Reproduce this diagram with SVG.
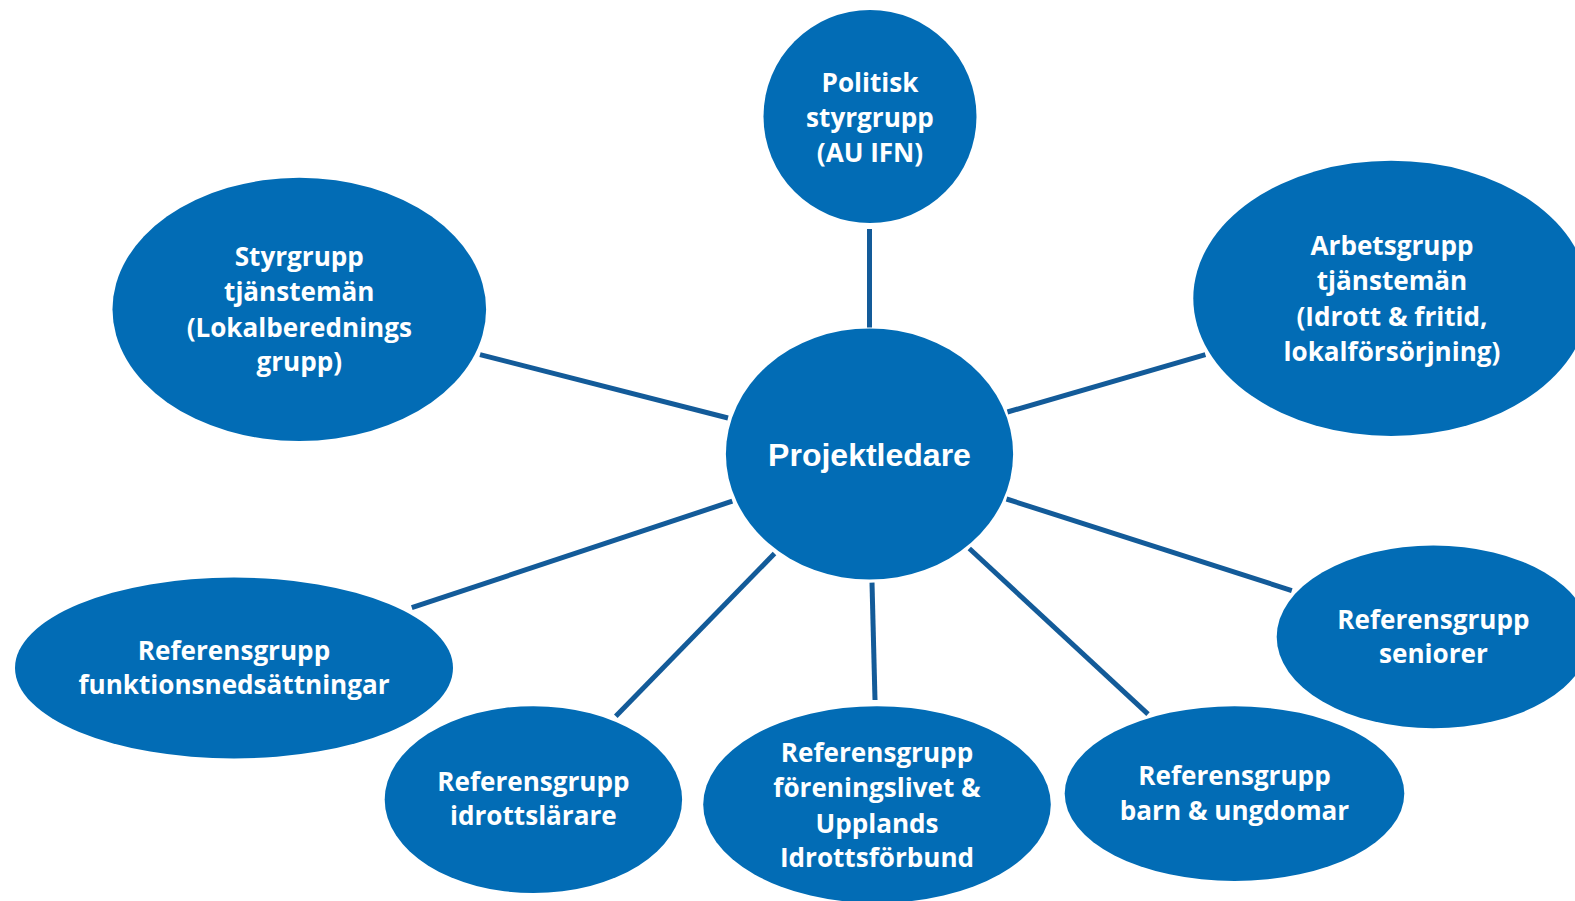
<svg xmlns="http://www.w3.org/2000/svg" width="1575" height="901" viewBox="0 0 1575 901">
<style>
.n{fill:#026CB5}
.c line{stroke:#135B99;stroke-width:5}
.t{fill:#fff;font-family:"Open Sans","Noto Sans",sans-serif;font-weight:bold;font-size:26.1px;text-anchor:middle}
.p{fill:#fff;font-family:"Liberation Sans",Arial,sans-serif;font-weight:bold;font-size:32px;text-anchor:middle}
</style>
<rect width="1575" height="901" fill="#fff"/>
<g id="connectors" class="c">
<line x1="869.5" y1="229" x2="869.5" y2="327.5"/>
<line x1="480" y1="354.6" x2="728" y2="418"/>
<line x1="1007.5" y1="412" x2="1205.4" y2="354.6"/>
<line x1="411.8" y1="607.7" x2="732.3" y2="501.2"/>
<line x1="615.8" y1="716.2" x2="774.5" y2="553.5"/>
<line x1="872" y1="582.6" x2="875" y2="700"/>
<line x1="969.3" y1="548.5" x2="1148" y2="714.2"/>
<line x1="1006.5" y1="499" x2="1291.8" y2="590.6"/>
</g>
<g id="projektledare">
<ellipse class="n" cx="869.5" cy="454" rx="143.6" ry="125.6"/>
<text class="p" x="869.5" y="465.5">Projektledare</text>
</g>
<g id="politisk">
<ellipse class="n" cx="870" cy="116.5" rx="106.5" ry="106.5"/>
<text class="t" x="870" y="91.5">Politisk</text>
<text class="t" x="870" y="126.5">styrgrupp</text>
<text class="t" x="870" y="161.5">(AU IFN)</text>
</g>
<g id="styrgrupp">
<ellipse class="n" cx="299.3" cy="309.4" rx="186.8" ry="131.6"/>
<text class="t" x="299.3" y="266">Styrgrupp</text>
<text class="t" x="299.3" y="301">tjänstemän</text>
<text class="t" x="299.3" y="336.5">(Lokalberednings</text>
<text class="t" x="299.3" y="370.5">grupp)</text>
</g>
<g id="arbetsgrupp">
<ellipse class="n" cx="1391.2" cy="298.3" rx="197.9" ry="137.6"/>
<text class="t" x="1392" y="255">Arbetsgrupp</text>
<text class="t" x="1392" y="290">tjänstemän</text>
<text class="t" x="1392" y="326">(Idrott &amp; fritid,</text>
<text class="t" x="1392" y="360.5">lokalförsörjning)</text>
</g>
<g id="ref-funktion">
<ellipse class="n" cx="234" cy="668" rx="219" ry="90.4"/>
<text class="t" x="234" y="660">Referensgrupp</text>
<text class="t" x="234" y="694">funktionsnedsättningar</text>
</g>
<g id="ref-idrottslarare">
<ellipse class="n" cx="533.4" cy="799.6" rx="148.7" ry="93.4"/>
<text class="t" x="533.4" y="791">Referensgrupp</text>
<text class="t" x="533.4" y="825">idrottslärare</text>
</g>
<g id="ref-foreningslivet">
<ellipse class="n" cx="877" cy="804.6" rx="173.8" ry="98.4"/>
<text class="t" x="877" y="762">Referensgrupp</text>
<text class="t" x="877" y="797">föreningslivet &amp;</text>
<text class="t" x="877" y="833">Upplands</text>
<text class="t" x="877" y="867">Idrottsförbund</text>
</g>
<g id="ref-barn">
<ellipse class="n" cx="1234.5" cy="793.6" rx="169.8" ry="87.4"/>
<text class="t" x="1234.5" y="785">Referensgrupp</text>
<text class="t" x="1234.5" y="820">barn &amp; ungdomar</text>
</g>
<g id="ref-seniorer">
<ellipse class="n" cx="1433.4" cy="636.9" rx="156.7" ry="91.4"/>
<text class="t" x="1433.4" y="629">Referensgrupp</text>
<text class="t" x="1433.4" y="663">seniorer</text>
</g>
</svg>
